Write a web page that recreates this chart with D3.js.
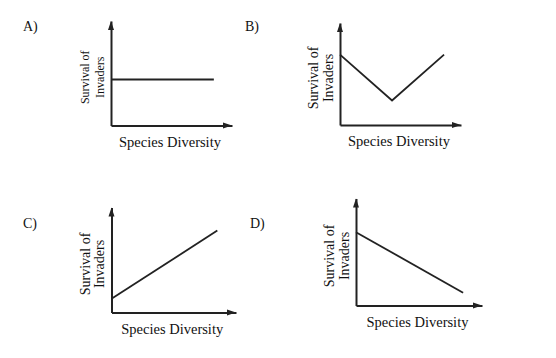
<!DOCTYPE html>
<html>
<head>
<meta charset="utf-8">
<script src="https://cdn.jsdelivr.net/npm/d3@7"></script>
<style>
  body { margin: 0; background: #fff; }
  text { font-family: "Liberation Serif", "Times New Roman", serif; fill: #111; }
</style>
</head>
<body>
<script>
// Data (abstract units, axes run 0..10)
const panelLabels = ["A)", "B)", "C)", "D)"];
const xAxisLabel = "Species Diversity";
const yAxisLabel = ["Survival of", "Invaders"];

const diversityA = [0, 8.5];
const survivalA = [4.4, 4.4];
const diversityB = [0, 4.3, 8.6];
const survivalB = [6.9, 2.4, 6.9];
const diversityC = [0, 8.5];
const survivalC = [1.3, 7.8];
const diversityD = [0, 8.5];
const survivalD = [6.85, 1.2];

const seriesX = [diversityA, diversityB, diversityC, diversityD];
const seriesY = [survivalA, survivalB, survivalC, survivalD];

// Layout of each panel: axis origin, axis lengths, where the letter goes
const panels = [
  { ox: 111, oy: 125.5, w: 121, h: 104.5, lx: 23, ly: 31, yFont: 12 },
  { ox: 340, oy: 125, w: 121, h: 102, lx: 245, ly: 31, yFont: 14 },
  { ox: 111.5, oy: 312.5, w: 124.5, h: 105, lx: 23, ly: 227.5, yFont: 14 },
  { ox: 356, oy: 305.5, w: 126, h: 107, lx: 250, ly: 227.5, yFont: 14 }
];

const ink = "#222";

const svg = d3.select("body")
              .append("svg")
              .attr("width", 556)
              .attr("height", 358);

panels.forEach((p, i) => {
    const x = d3.scaleLinear().domain([0, 10]).range([p.ox, p.ox + p.w]);
    const y = d3.scaleLinear().domain([0, 10]).range([p.oy, p.oy - p.h]);

    const g = svg.append("g");

    // Panel letter
    g.append("text")
     .attr("x", p.lx)
     .attr("y", p.ly)
     .style("font-size", "14px")
     .text(panelLabels[i]);

    // Axes without ticks
    g.append("g")
     .attr("transform", `translate(0,${y(0)})`)
     .call(d3.axisBottom(x).tickValues([]).tickSizeOuter(0))
     .select(".domain")
     .attr("stroke", ink)
     .attr("stroke-width", 2);

    g.append("g")
     .attr("transform", `translate(${x(0)},0)`)
     .call(d3.axisLeft(y).tickValues([]).tickSizeOuter(0))
     .select(".domain")
     .attr("stroke", ink)
     .attr("stroke-width", 2);

    // Arrow heads
    const tipX = x(10), tipY = y(10);
    g.append("path")
     .attr("d", `M${tipX},${y(0)}L${tipX - 9},${y(0) - 3}L${tipX - 9},${y(0) + 3}Z`)
     .attr("fill", ink);
    g.append("path")
     .attr("d", `M${x(0)},${tipY}L${x(0) - 3},${tipY + 9}L${x(0) + 3},${tipY + 9}Z`)
     .attr("fill", ink);

    // The curve
    const pts = seriesX[i].map((v, j) => [v, seriesY[i][j]]);
    g.append("path")
     .datum(pts)
     .attr("fill", "none")
     .attr("stroke", ink)
     .attr("stroke-width", 1.8)
     .attr("d", d3.line().x(d => x(d[0])).y(d => y(d[1])));

    // X label
    g.append("text")
     .attr("x", (x(0) + x(10)) / 2 - 1.5)
     .attr("y", y(0) + 21)
     .attr("text-anchor", "middle")
     .style("font-size", "14.5px")
     .text(xAxisLabel);

    // Y label (two rotated lines)
    const yMid = (y(0) + y(10)) / 2 + 4;
    yAxisLabel.forEach((t, k) => {
        g.append("text")
         .attr("transform", `translate(${x(0) - 22 + k * 14.5},${yMid}) rotate(-90)`)
         .attr("text-anchor", "middle")
         .style("font-size", p.yFont + "px")
         .text(t);
    });
});
</script>
</body>
</html>
